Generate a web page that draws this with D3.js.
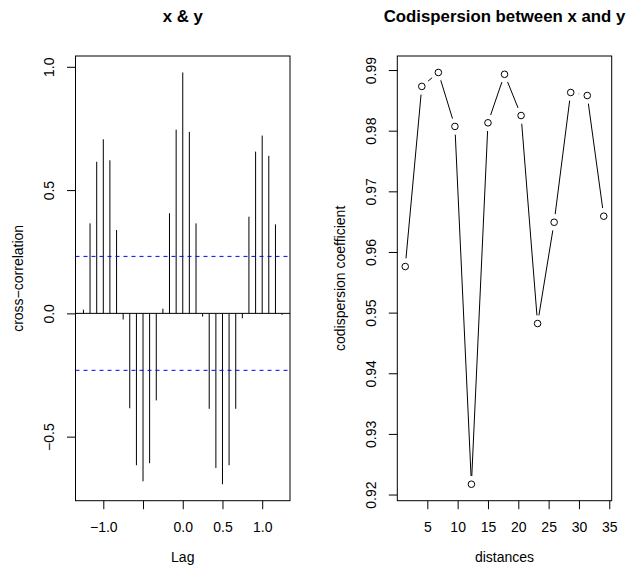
<!DOCTYPE html>
<html>
<head>
<meta charset="utf-8">
<script src="https://cdn.jsdelivr.net/npm/d3@7"></script>
<style>
  body { margin: 0; background: #fff; }
  svg { display: block; font-family: "Liberation Sans", Arial, Helvetica, sans-serif; }
</style>
</head>
<body>
<svg id="chart"></svg>
<script>
// left panel: cross-correlation of x & y (lag in years, monthly series)
const lags = [-1.250, -1.167, -1.083, -1.000, -0.917, -0.833, -0.750, -0.667, -0.583, -0.500,
  -0.417, -0.333, -0.250, -0.167, -0.083, 0.000, 0.083, 0.167, 0.250, 0.333,
  0.417, 0.500, 0.583, 0.667, 0.750, 0.833, 0.917, 1.000, 1.083, 1.167, 1.250];
const ccfValues = [0.015, 0.365, 0.615, 0.706, 0.621, 0.338, -0.025, -0.385, -0.616, -0.681,
  -0.608, -0.353, 0.019, 0.406, 0.745, 0.977, 0.736, 0.365, -0.013, -0.387,
  -0.627, -0.693, -0.616, -0.387, -0.020, 0.392, 0.656, 0.721, 0.639, 0.361, -0.006];
const confLimit = 0.231;
const lagTicks = [-1.0, -0.5, 0.0, 0.5, 1.0];
const lagTickLabels = ['\u22121.0', '', '0.0', '0.5', '1.0'];
const ccfTicks = [-0.5, 0.0, 0.5, 1.0];

// right panel: codispersion coefficient by distance
const distances = [1.36, 4.09, 6.82, 9.55, 12.27, 15.00, 17.73, 20.46, 23.18, 25.91, 28.64, 31.37, 34.09];
const codispersion = [0.9576, 0.9873, 0.9896, 0.9807, 0.9217, 0.9813, 0.9893, 0.9825, 0.9482, 0.9649, 0.9863, 0.9858, 0.9659];
const distTicks = [5, 10, 15, 20, 25, 30, 35];
const codTicks = [0.92, 0.93, 0.94, 0.95, 0.96, 0.97, 0.98, 0.99];

const width = 626, height = 570;
const fontSize = 14;
const tickLen = 8.5;

const svg = d3.select('#chart')
  .attr('width', width)
  .attr('height', height)
  .attr('viewBox', [0, 0, width, height]);

// R style padding of 4% on each side
const padRange = ext => {
  const r = ext[1] - ext[0];
  return [ext[0] - 0.04 * r, ext[1] + 0.04 * r];
};

// box, axes, title and labels of one panel
const drawFrame = (box, xScale, yScale, {
  xTicks, xTickLabels, yTicks, yFormat, title, xLabel, yLabel, yLabelX
}) => {
  const g = svg.append('g');

  // bottom axis
  const xAxis = g.append('g')
    .attr('transform', `translate(0,${box.bottom})`)
    .call(d3.axisBottom(xScale).tickValues(xTicks).tickSize(tickLen).tickSizeOuter(0)
      .tickFormat((d, i) => xTickLabels ? xTickLabels[i] : d));
  xAxis.select('.domain').remove();
  xAxis.selectAll('line').attr('stroke', '#000');
  xAxis.selectAll('text')
    .attr('y', 31).attr('dy', 0)
    .attr('fill', '#000')
    .attr('font-size', fontSize)
    .attr('font-family', null);

  // left axis with rotated labels
  const yAxis = g.append('g')
    .attr('transform', `translate(${box.left},0)`)
    .call(d3.axisLeft(yScale).tickValues(yTicks).tickSize(tickLen).tickSizeOuter(0)
      .tickFormat(yFormat));
  yAxis.select('.domain').remove();
  yAxis.selectAll('line').attr('stroke', '#000');
  yAxis.selectAll('text')
    .attr('x', 0).attr('y', -21.5).attr('dy', 0)
    .attr('transform', 'rotate(-90)')
    .attr('text-anchor', 'middle')
    .attr('fill', '#000')
    .attr('font-size', fontSize)
    .attr('font-family', null);

  // frame
  g.append('rect')
    .attr('x', box.left).attr('y', box.top)
    .attr('width', box.right - box.left).attr('height', box.bottom - box.top)
    .attr('fill', 'none').attr('stroke', '#000');

  const cx = (box.left + box.right) / 2;
  const cy = (box.top + box.bottom) / 2;

  g.append('text')
    .attr('x', cx).attr('y', 22)
    .attr('text-anchor', 'middle')
    .attr('font-weight', 'bold')
    .attr('font-size', 16.8)
    .text(title);

  g.append('text')
    .attr('x', cx).attr('y', 562)
    .attr('text-anchor', 'middle')
    .attr('font-size', fontSize)
    .text(xLabel);

  g.append('text')
    .attr('transform', `translate(${yLabelX},${cy}) rotate(-90)`)
    .attr('text-anchor', 'middle')
    .attr('font-size', fontSize)
    .text(yLabel);
};

//
// Left panel: cross-correlation bars
//
const boxL = { left: 75.5, right: 290, top: 56, bottom: 500.7 };
const xL = d3.scaleLinear(padRange(d3.extent(lags)), [boxL.left, boxL.right]);
const yL = d3.scaleLinear(padRange(d3.extent([...ccfValues, confLimit, -confLimit])), [boxL.bottom, boxL.top]);

const fmt1 = d => d3.format('.1f')(d);

drawFrame(boxL, xL, yL, {
  xTicks: lagTicks,
  xTickLabels: lagTickLabels,
  yTicks: ccfTicks,
  yFormat: fmt1,
  title: 'x & y',
  xLabel: 'Lag',
  yLabel: 'cross\u2212correlation',
  yLabelX: 23
});

// bars
svg.append('g')
  .selectAll('line')
  .data(lags)
  .join('line')
    .attr('x1', d => xL(d))
    .attr('x2', d => xL(d))
    .attr('y1', yL(0))
    .attr('y2', (d, i) => yL(ccfValues[i]))
    .attr('stroke', '#000');

// zero line
svg.append('line')
  .attr('x1', boxL.left).attr('x2', boxL.right)
  .attr('y1', yL(0)).attr('y2', yL(0))
  .attr('stroke', '#000');

// confidence bounds
svg.append('g')
  .selectAll('line')
  .data([confLimit, -confLimit])
  .join('line')
    .attr('x1', boxL.left).attr('x2', boxL.right)
    .attr('y1', d => yL(d)).attr('y2', d => yL(d))
    .attr('stroke', '#0000ff')
    .attr('stroke-dasharray', '4,4');

//
// Right panel: codispersion, type "b"
//
const boxR = { left: 397.3, right: 611.7, top: 56, bottom: 500.7 };
const xR = d3.scaleLinear(padRange(d3.extent(distances)), [boxR.left, boxR.right]);
const yR = d3.scaleLinear(padRange(d3.extent(codispersion)), [boxR.bottom, boxR.top]);

drawFrame(boxR, xR, yR, {
  xTicks: distTicks,
  yTicks: codTicks,
  yFormat: d => d3.format('.2f')(d),
  title: 'Codispersion between x and y',
  xLabel: 'distances',
  yLabel: 'codispersion coefficient',
  yLabelX: 344.8
});

const pts = distances.map((d, i) => [xR(d), yR(codispersion[i])]);
const gap = 8.2;
const segs = [];
for (let i = 0; i < pts.length - 1; i++) {
  const [x0, y0] = pts[i], [x1, y1] = pts[i + 1];
  const len = Math.hypot(x1 - x0, y1 - y0);
  if (len <= 2 * gap) continue;
  const ux = (x1 - x0) / len, uy = (y1 - y0) / len;
  segs.push([x0 + ux * gap, y0 + uy * gap, x1 - ux * gap, y1 - uy * gap]);
}

svg.append('g')
  .selectAll('line')
  .data(segs)
  .join('line')
    .attr('x1', d => d[0]).attr('y1', d => d[1])
    .attr('x2', d => d[2]).attr('y2', d => d[3])
    .attr('stroke', '#000');

svg.append('g')
  .selectAll('circle')
  .data(pts)
  .join('circle')
    .attr('cx', d => d[0])
    .attr('cy', d => d[1])
    .attr('r', 3.3)
    .attr('fill', 'none')
    .attr('stroke', '#000');
</script>
</body>
</html>
